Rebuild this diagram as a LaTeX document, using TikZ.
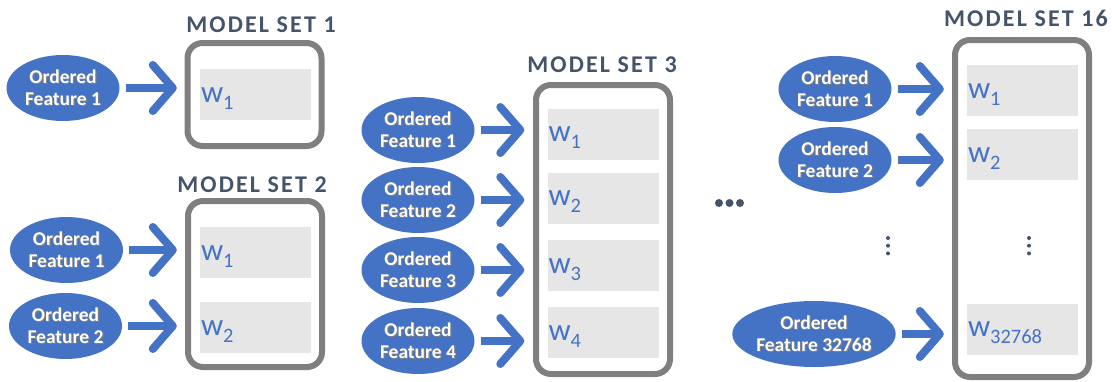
\documentclass[tikz,border=0pt]{standalone}
\usepackage{fontspec}
\setmainfont{Carlito}
\newfontfamily\titlefont[LetterSpace=9]{Carlito}
\definecolor{fblue}{HTML}{4472C4}
\definecolor{setgray}{HTML}{7F7F7F}
\definecolor{wgray}{HTML}{E7E6E6}
\definecolor{titleslate}{HTML}{44546A}
\usetikzlibrary{arrows.meta,shapes.geometric}
\newcommand{\shd}[1]{\leavevmode\rlap{\kern1.2pt\raisebox{-1.2pt}{\textcolor{black!50}{#1}}}#1}
\newcommand{\wsub}[1]{{\fontsize{31}{31}\selectfont w}\raisebox{-7pt}{\fontsize{20.5}{20.5}\selectfont #1}}

\begin{document}
\begin{tikzpicture}[x=1pt, y=-1pt,
  feat/.style={ellipse, fill=fblue, inner sep=0pt, minimum width=113pt, minimum height=66pt,
               font=\fontsize{19.5}{22}\selectfont\bfseries, align=center, text=white},
  mset/.style={rectangle, draw=setgray, line width=6pt, rounded corners=15pt, minimum width=134pt},
  wbox/.style={rectangle, fill=wgray, minimum width=111pt, minimum height=51pt, inner sep=0pt},
  wlab/.style={anchor=base west, yshift=-7.5pt, text=fblue, inner sep=1pt},
  stitle/.style={font=\titlefont\fontsize{24}{24}\selectfont\bfseries, text=titleslate},
  farr/.style={-{Straight Barb[length=20pt, width=46pt, round]}, line width=8pt, draw=fblue,
               shorten <=6pt, shorten >=23pt},
  ddot/.style={fill=titleslate}
]
\useasboundingbox (0,0) rectangle (1112,381);

% Model set 1
\node[stitle] (t1) at (261,25) {MODEL SET 1};
\node[mset, minimum height=103pt] (ms1) at (254.5,94.5) {};
\node[wbox] (w11) at (255.5,94.5) {};
\node[wlab] (l11) at (w11.west) {\wsub{1}};
\node[feat] (f11) at (63,88) {\shd{Ordered}\\\shd{Feature 1}};
\draw[farr] (f11.east) -- (f11.east -| w11.west);

% Model set 2
\node[stitle] (t2) at (252,185) {MODEL SET 2};
\node[mset, minimum height=166pt] (ms2) at (255,284) {};
\node[wbox] (w21) at (255.5,252.5) {};
\node[wbox] (w22) at (255.5,327.5) {};
\node[wlab] (l21) at (w21.west) {\wsub{1}};
\node[wlab] (l22) at (w22.west) {\wsub{2}};
\node[feat] (f21) at (66.5,250) {\shd{Ordered}\\\shd{Feature 1}};
\node[feat] (f22) at (65.5,326) {\shd{Ordered}\\\shd{Feature 2}};
\draw[farr] (f21.east) -- (f21.east -| w21.west);
\draw[farr] (f22.east) -- (f22.east -| w22.west);

% Model set 3
\node[stitle] (t3) at (602,65) {MODEL SET 3};
\node[mset, minimum height=289pt] (ms3) at (603,229.5) {};
\node[wbox] (w31) at (603,134) {};
\node[wbox] (w32) at (603,198) {};
\node[wbox] (w33) at (603,265.5) {};
\node[wbox] (w34) at (603,332.5) {};
\node[wlab] (l31) at (w31.west) {\wsub{1}};
\node[wlab] (l32) at (w32.west) {\wsub{2}};
\node[wlab] (l33) at (w33.west) {\wsub{3}};
\node[wlab] (l34) at (w34.west) {\wsub{4}};
\node[feat] (f31) at (418,130) {\shd{Ordered}\\\shd{Feature 1}};
\node[feat] (f32) at (418,200) {\shd{Ordered}\\\shd{Feature 2}};
\node[feat] (f33) at (418,270) {\shd{Ordered}\\\shd{Feature 3}};
\node[feat] (f34) at (418,341) {\shd{Ordered}\\\shd{Feature 4}};
\draw[farr] (f31.east) -- (f31.east -| w31.west);
\draw[farr] (f32.east) -- (f32.east -| w32.west);
\draw[farr] (f33.east) -- (f33.east -| w33.west);
\draw[farr] (f34.east) -- (f34.east -| w34.west);

% Gap between sets
\foreach \x in {719,729.5,740}
  \fill[ddot] (\x,203) circle (4pt);

% Model set 16
\node[stitle] (t16) at (1026,18) {MODEL SET 16};
\node[mset, minimum height=337pt] (ms16) at (1022,208.5) {};
\node[wbox] (w161) at (1022.5,90.5) {};
\node[wbox] (w162) at (1022.5,154.5) {};
\node[wbox] (w16n) at (1022.5,329) {};
\node[wlab] (l161) at (w161.west) {\wsub{1}};
\node[wlab] (l162) at (w162.west) {\wsub{2}};
\node[wlab] (l16n) at (w16n.west) {\wsub{32768}};
\node[feat] (f161) at (835,89) {\shd{Ordered}\\\shd{Feature 1}};
\node[feat] (f162) at (835,160) {\shd{Ordered}\\\shd{Feature 2}};
\node[feat, minimum width=152pt] (f16n) at (814,334) {\shd{Ordered}\\\shd{Feature 32768}};
\draw[farr] (f161.east) -- (f161.east -| w161.west);
\draw[farr] (f162.east) -- (f162.east -| w162.west);
\draw[farr] (f16n.east) -- (f16n.east -| w16n.west);
\foreach \y in {238,245.7,253.4} {
  \fill[ddot] (888,\y) circle (2pt);
  \fill[ddot] (1029,\y) circle (2pt);
}
\end{tikzpicture}
\end{document}
